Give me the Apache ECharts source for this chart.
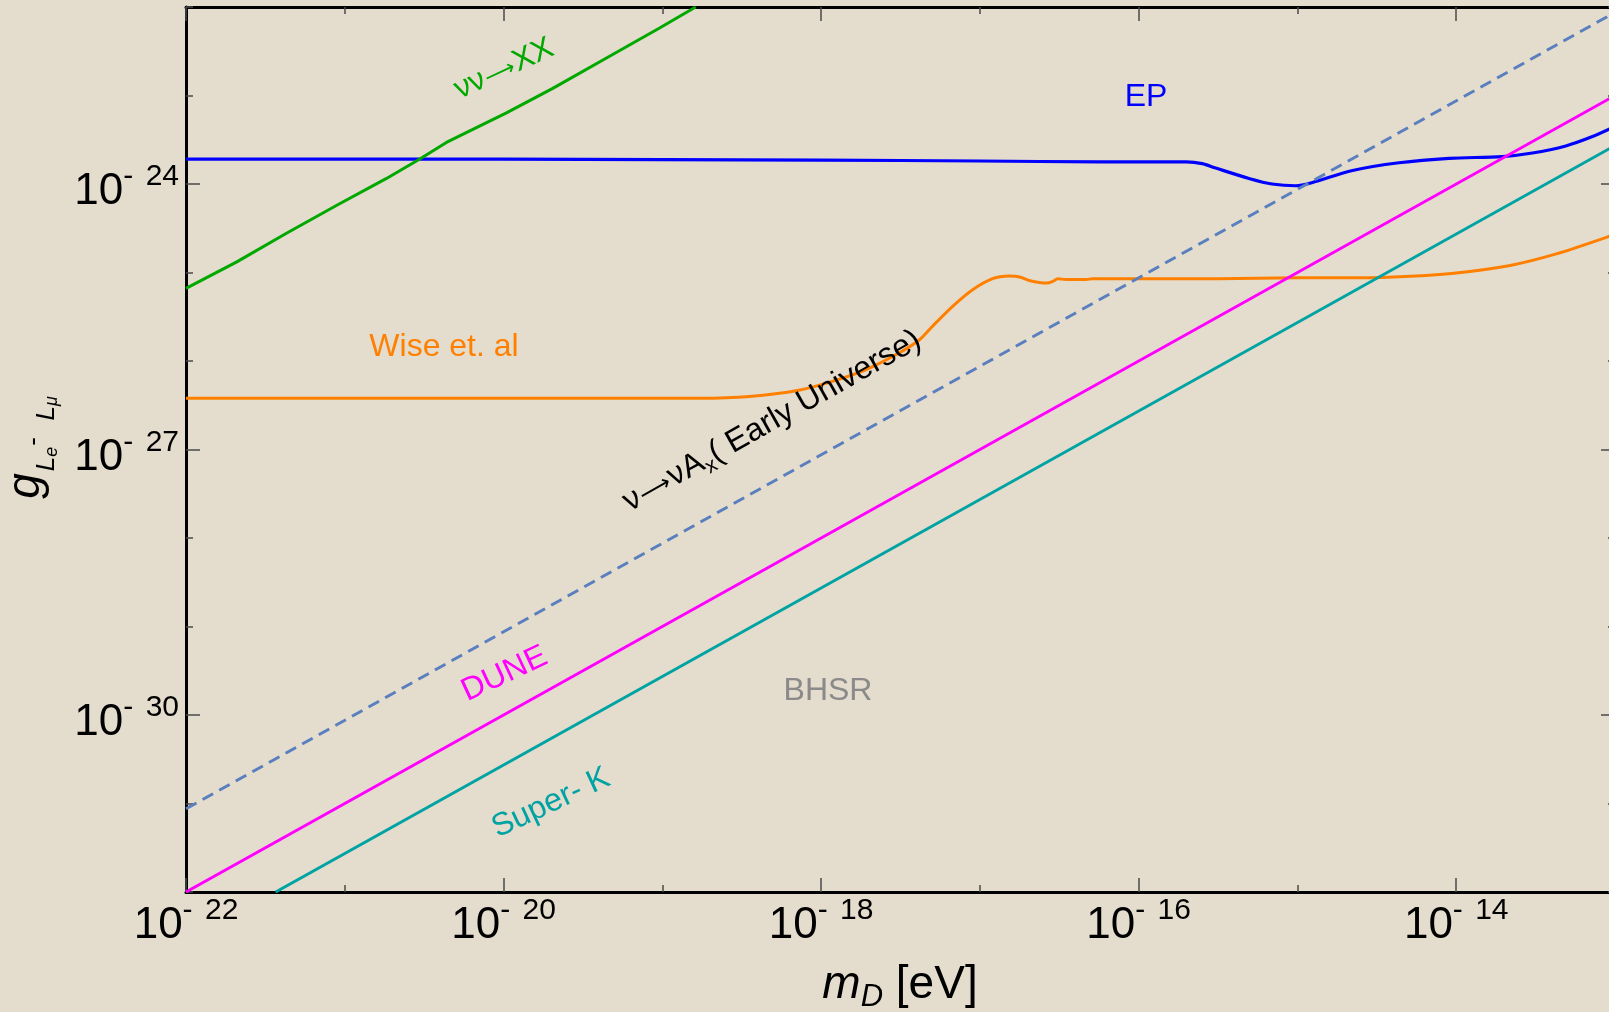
<!DOCTYPE html>
<html>
<head>
<meta charset="utf-8">
<script src="https://cdn.jsdelivr.net/npm/echarts@6/dist/echarts.min.js"></script>
<style>
html,body{margin:0;padding:0;background:#e4dccc;}
#c{width:1609px;height:1012px;}
</style>
</head>
<body>
<div id="c"></div>
<script>
// All values are log10 of the plotted quantities (m_D in eV, coupling g).
const xMajorTicks = [-22, -20, -18, -16, -14];
const xMinorTicks = [-22, -21, -20, -19, -18, -17, -16, -15, -14, -13];
const yMajorTicks = [-30, -27, -24];
const yMinorTicks = [-32, -31, -30, -29, -28, -27, -26, -25, -24, -23, -22];

// EP (blue)
const epLogM = [-22, -20, -18, -17, -16.25, -15.7, -15.6, -15.515, -15.3, -15.16, -15.01, -14.91, -14.66, -14.36, -14.045, -13.71, -13.52, -13.31, -13.15, -13.0];
const epLogG = [-23.72, -23.72, -23.73, -23.74, -23.75, -23.75, -23.77, -23.82, -23.94, -24.0, -24.02, -23.985, -23.85, -23.76, -23.71, -23.69, -23.65, -23.57, -23.47, -23.35];

// Wise et. al (orange)
const wiseLogM = [-22, -20, -19, -18.765, -18.45, -18.14, -17.93, -17.72, -17.51, -17.38, -17.3, -17.17, -17.05, -16.92, -16.815, -16.75, -16.69, -16.58, -16.54, -16.51, -16.46, -16.33, -16.29, -16.0, -15.5, -15.0, -14.755, -14.39, -14.03, -13.66, -13.37, -13.05, -13.0];
const wiseLogG = [-26.42, -26.42, -26.42, -26.42, -26.40, -26.33, -26.23, -26.10, -25.91, -25.76, -25.61, -25.38, -25.20, -25.07, -25.04, -25.05, -25.09, -25.12, -25.10, -25.07, -25.08, -25.08, -25.07, -25.07, -25.07, -25.06, -25.06, -25.05, -25.01, -24.92, -24.79, -24.60, -24.56];

// nu nu -> XX (green)
const xxLogM = [-22.0, -21.68, -21.37, -21.05, -20.74, -20.53, -20.36, -19.985, -19.69, -19.335, -19.02, -18.79];
const xxLogG = [-25.18, -24.88, -24.56, -24.24, -23.94, -23.72, -23.53, -23.20, -22.92, -22.56, -22.24, -22.0];

// nu -> nu A_x (Early Universe), dashed
const euLogM = [-22, -13];
const euLogG = [-31.06, -22.06];

// DUNE (magenta)
const duneLogM = [-22, -13];
const duneLogG = [-32.0, -23.0];

// Super-K (teal)
const skLogM = [-21.435, -13];
const skLogG = [-32.0, -23.565];

const FF = '"Liberation Sans", Arial, Helvetica, sans-serif';
const AF = '"DejaVu Sans", sans-serif';
const XMIN = -22, XMAX = -13, YMIN = -32, YMAX = -22;

function pts(xs, ys) { return xs.map((x, i) => [x, ys[i]]); }

const tickRich = {
  a: {fontFamily: FF, fontSize: 44, lineHeight: 44, verticalAlign: 'top', padding: [8, 0, 8, 0], color: '#000'},
  b: {fontFamily: FF, fontSize: 30, lineHeight: 30, verticalAlign: 'top', padding: [0, 0, 0, 0], color: '#000'},
  c: {fontFamily: FF, fontSize: 30, lineHeight: 30, verticalAlign: 'top', padding: [0, 0, 0, 4], color: '#000'}
};
function tickFmt(v) { return '{a|10}{b|- }{c|' + Math.round(-v) + '}'; }

function axis(kind, position, tickVals, tickLen, labelVals, showLine, margin) {
  return {
    type: 'value',
    position: position,
    min: kind === 'x' ? XMIN : YMIN,
    max: kind === 'x' ? XMAX : YMAX,
    interval: 1,
    axisLine: {show: showLine, onZero: false, lineStyle: {color: '#000', width: 3}},
    axisTick: {show: true, inside: true, length: tickLen, customValues: tickVals,
               lineStyle: {color: '#4a4a4a', width: 1.5}},
    axisLabel: labelVals ? {
      show: true, customValues: labelVals, margin: margin,
      formatter: tickFmt, rich: tickRich, color: '#000'
    } : {show: false},
    splitLine: {show: false},
    minorTick: {show: false},
    minorSplitLine: {show: false}
  };
}

function lineSeries(name, xs, ys, color, width, opts) {
  return Object.assign({
    type: 'line', name: name, data: pts(xs, ys),
    showSymbol: false, symbol: 'none', silent: true,
    lineStyle: {color: color, width: width},
    xAxisIndex: 0, yAxisIndex: 0, clip: true
  }, opts || {});
}

function label(text, x, y, color, deg, rich, size) {
  return {
    type: 'text', x: x, y: y, rotation: (deg || 0) * Math.PI / 180, silent: true, z: 50,
    style: {
      text: text, fill: color, font: (size || 32) + 'px ' + FF,
      align: 'center', verticalAlign: 'middle',
      textAlign: 'center', textVerticalAlign: 'middle',
      rich: rich
    }
  };
}

const chart = echarts.init(document.getElementById('c'), null, {renderer: 'canvas'});
chart.setOption({
  animation: false,
  backgroundColor: '#e4dccc',
  grid: {left: 186, top: 7, width: 1429, height: 885, containLabel: false, outerBoundsMode: 'none'},
  xAxis: [
    axis('x', 'bottom', xMinorTicks, 7, null, true),
    axis('x', 'bottom', xMajorTicks, 14, xMajorTicks, false, 4),
    axis('x', 'top', xMinorTicks, 7, null, true),
    axis('x', 'top', xMajorTicks, 14, null, false)
  ],
  yAxis: [
    axis('y', 'left', yMinorTicks, 7, null, true),
    axis('y', 'left', yMajorTicks, 14, yMajorTicks, false, 7),
    axis('y', 'right', yMinorTicks, 7, null, true),
    axis('y', 'right', yMajorTicks, 14, null, false)
  ],
  series: [
    lineSeries('EP', epLogM, epLogG, '#0000ff', 3.2, {smooth: 0.3}),
    lineSeries('Wise et. al', wiseLogM, wiseLogG, '#ff8000', 3, {smooth: 0.25}),
    lineSeries('νν→XX', xxLogM, xxLogG, '#00a800', 3),
    lineSeries('ν→νAx (Early Universe)', euLogM, euLogG, '#5a7fbf', 3,
               {lineStyle: {color: '#5a7fbf', width: 3, type: [12, 7]}}),
    lineSeries('DUNE', duneLogM, duneLogG, '#ff00ff', 3),
    lineSeries('Super-K', skLogM, skLogG, '#00a3a3', 3)
  ],
  graphic: [
    label('{t|νν}{a|⟶}{t|XX}', 504, 69, '#00a800', 25, {
      t: {fontFamily: FF, fontSize: 31, lineHeight: 31, verticalAlign: 'top', padding: [0, 0, 0, 0], fill: '#00a800', color: '#00a800'},
      a: {fontFamily: AF, fontSize: 22, lineHeight: 22, verticalAlign: 'top', padding: [7, 1, 0, 1], fill: '#00a800', color: '#00a800'}
    }, 31),
    label('EP', 1146, 97, '#0000ff', 0, null),
    label('Wise et. al', 444, 347, '#ff8000', 0, null),
    label('DUNE', 504.5, 674, '#ff00ff', 25, null),
    label('Super- K', 551, 803, '#00a3a3', 25, null),
    label('BHSR', 828, 691, '#8a8a8a', 0, null),
    label('{n|ν}{a|⟶}{n|νA}{s|x}{n|( Early Universe)}', 772, 421, '#000', 29.5, {
      n: {fontFamily: FF, fontSize: 32, lineHeight: 32, verticalAlign: 'top', padding: [0, 0, 0, 0], fill: '#000', color: '#000'},
      a: {fontFamily: AF, fontSize: 23, lineHeight: 23, verticalAlign: 'top', padding: [7, 1, 0, 1], fill: '#000', color: '#000'},
      s: {fontFamily: FF, fontSize: 21, lineHeight: 21, verticalAlign: 'top', padding: [15, 0, 0, 0], fill: '#000', color: '#000'}
    }),
    {
      type: 'text', x: 26.7, y: 447.5, rotation: Math.PI / 2, silent: true, z: 50,
      style: {
        text: '{g|g}{s|L}{ss|e}{h|-}{s|  L}{ss|μ}',
        fill: '#000', align: 'center', verticalAlign: 'middle',
        textAlign: 'center', textVerticalAlign: 'middle',
        rich: {
          g: {fontFamily: FF, fontStyle: 'italic', fontSize: 46, lineHeight: 46, verticalAlign: 'top', padding: [0, 0, 0, 0], fill: '#000', color: '#000'},
          s: {fontFamily: FF, fontStyle: 'italic', fontSize: 26, lineHeight: 26, verticalAlign: 'top', padding: [30, 0, 0, 2], fill: '#000', color: '#000'},
          ss: {fontFamily: FF, fontStyle: 'italic', fontSize: 18, lineHeight: 18, verticalAlign: 'top', padding: [39, 0, 0, 0], fill: '#000', color: '#000'},
          h: {fontFamily: FF, fontSize: 26, lineHeight: 26, verticalAlign: 'top', padding: [17, 0, 0, 1], fill: '#000', color: '#000'}
        }
      }
    },
    {
      type: 'text', x: 900, y: 962, silent: true, z: 50,
      style: {
        text: '{m|m}{d|D}{r| [eV]}',
        fill: '#000', align: 'center', verticalAlign: 'top',
        textAlign: 'center', textVerticalAlign: 'top',
        rich: {
          m: {fontFamily: FF, fontStyle: 'italic', fontSize: 46, lineHeight: 46, verticalAlign: 'top', padding: [0, 0, 0, 0], fill: '#000', color: '#000'},
          d: {fontFamily: FF, fontStyle: 'italic', fontSize: 31, lineHeight: 31, verticalAlign: 'top', padding: [20, 0, 0, 0], fill: '#000', color: '#000'},
          r: {fontFamily: FF, fontSize: 46, lineHeight: 46, verticalAlign: 'top', padding: [0, 0, 0, 0], fill: '#000', color: '#000'}
        }
      }
    }
  ]
});
</script>
</body>
</html>
